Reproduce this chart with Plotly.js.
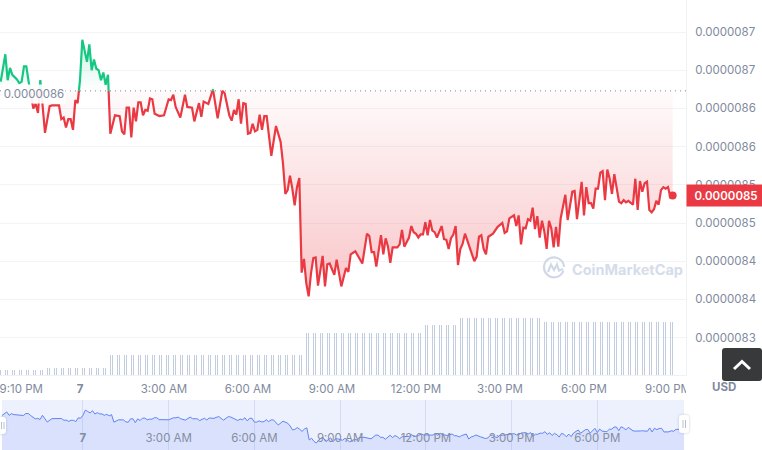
<!DOCTYPE html>
<html><head><meta charset="utf-8">
<script src="https://cdn.plot.ly/plotly-3.0.1.min.js"></script>
<style>html,body{margin:0;padding:0;background:#fff;overflow:hidden}#wrap{position:relative;width:762px;height:450px}#chart{width:762px;height:450px}
.ov{position:absolute}</style></head><body>
<div id="wrap"><div id="chart"></div>
<div class="ov" style="left:686px;top:376px;width:8px;height:20px;background:#fff"></div>
<div class="ov" style="left:722px;top:348px;width:40px;height:33px;background:#38393b;border-radius:3px">
<svg width="40" height="33"><path d="M12 21 L20 13.5 L28 21" fill="none" stroke="#fff" stroke-width="3"/></svg></div>
<div class="ov" style="left:-3px;top:417px;width:9px;height:17px;background:#fff;border-radius:3px;box-shadow:0 0 3px rgba(120,130,160,.4)"><svg width="9" height="17"><path d="M4.5 5V12M7 5V12" stroke="#b8c0d0" stroke-width="1"/></svg></div>
<div class="ov" style="left:679px;top:415px;width:10px;height:18px;background:#fff;border-radius:3px;box-shadow:0 0 3px rgba(120,130,160,.4)"><svg width="10" height="18"><path d="M4 5V13M6.5 5V13" stroke="#b8c0d0" stroke-width="1"/></svg></div>
<svg class="ov" style="left:542px;top:256px" width="24" height="24" viewBox="0 0 24 24"><path d="M21.5 14.5A10 10 0 1 1 22 11" fill="none" stroke="#d0d9e8" stroke-width="2.2"/><path d="M6 16 L9 8.5 L12 14 L15 8.5 L17 14.5 L21 13" fill="none" stroke="#d0d9e8" stroke-width="2.2"/></svg>
</div>
<script>
// minutes from midnight of day 7
const minutes=[-170,-160,-155,-150,-145,-135,-130,-125,-120,-115,-110,-100,-95,-90,-85,-75,-65,-60,-45,-40,-35,-30,-25,-20,-15,-10,-5,0,5,10,15,20,25,30,35,40,45,50,55,60,65,75,85,90,95,100,105,110,115,120,125,130,135,140,145,150,155,160,170,180,190,195,200,205,215,225,230,240,245,255,260,265,275,285,295,305,310,320,325,330,335,340,345,350,355,360,365,370,375,380,385,390,395,400,410,420,430,435,440,445,450,455,460,465,470,475,480,485,490,495,500,505,510,520,525,530,535,545,550,560,570,575,580,590,600,605,615,620,625,630,635,645,650,655,660,665,670,680,685,690,695,705,710,715,720,725,730,735,740,745,750,755,760,765,775,780,785,790,795,800,805,810,815,820,825,835,845,850,855,860,865,870,875,885,895,905,910,915,920,930,935,940,945,950,955,960,965,970,975,980,985,990,995,1000,1005,1010,1015,1020,1025,1030,1040,1045,1055,1060,1065,1075,1080,1085,1090,1095,1100,1105,1110,1115,1120,1125,1130,1135,1140,1145,1155,1160,1165,1170,1175,1185,1190,1195,1200,1205,1210,1215,1220,1225,1230,1235,1240,1245,1250,1255,1260,1265,1270];
// price in units of 1e-9 USD
const priceNano=[863.5,867.1,863.7,865.3,864.4,863.8,863.3,863.5,865.5,865.5,863.5,860.0,860.6,859.4,863.7,856.8,860.3,860.4,860.4,858.6,858.8,857.5,858.6,858.6,857.2,861.1,860.7,863.7,869.0,867.6,866.1,868.4,865.0,866.4,865.2,865.0,863.7,864.7,863.1,864.4,856.7,859.1,859.0,857.0,856.6,860.1,860.1,856.2,860.1,858.3,860.8,860.8,859.1,859.8,859.7,861.3,861.2,859.3,859.0,859.1,861.2,861.1,861.8,860.2,858.8,861.8,860.2,860.1,858.3,860.7,858.9,860.9,860.6,862.5,858.7,862.3,862.0,859.1,858.4,859.8,859.2,861.2,858.0,860.7,860.6,856.7,856.8,858.0,857.0,857.2,859.2,857.2,859.0,859.0,853.8,857.7,855.6,852.8,848.8,849.3,851.2,849.5,847.3,849.7,850.9,838.5,840.3,837.1,835.4,838.4,840.4,840.5,836.8,840.7,836.7,839.6,839.7,838.2,840.2,836.7,839.1,838.6,840.9,841.3,840.2,839.7,843.6,843.3,841.2,841.2,839.3,843.4,840.9,843.0,841.9,839.8,841.8,841.8,842.2,844.1,841.9,843.1,844.6,843.8,843.6,843.1,843.5,843.5,845.1,843.4,845.4,844.0,843.8,843.1,844.6,842.9,842.8,841.6,843.0,843.5,844.6,839.5,841.6,842.3,843.6,841.7,840.0,840.6,843.2,843.4,841.6,840.9,843.2,843.6,844.5,845.0,843.7,843.9,845.6,846.0,844.6,846.0,842.2,844.4,844.3,845.5,845.3,847.0,844.2,845.9,843.1,845.3,843.9,841.6,845.3,844.3,841.8,844.5,841.9,845.6,848.7,845.4,849.1,849.2,845.5,850.4,846.0,849.7,847.6,847.6,846.9,849.5,849.5,851.6,851.8,848.0,852.0,850.8,848.8,851.4,847.8,847.6,848.0,847.7,847.9,847.4,850.8,846.7,850.5,849.1,850.2,850.4,846.7,846.4,846.8,847.9,847.4,849.3,849.7,849.5,849.7,848.4,848.6];
const openPrice=862.3;
// rolling volume read as steps (relative units) and the minute each step ends
const volumeLevels=[55,70,200,417,500,567,527];
const volumeStepEnds=[-78,61,479,736,810,994,1275];
const yTickVals=[870,865,860,855,850,845,840,835,830];
const yTickText=['0.0000087','0.0000087','0.0000086','0.0000086','0.0000085','0.0000085','0.0000084','0.0000084','0.0000083'];
const xTickVals=[-126,0,180,360,540,720,900,1080,1260];
const xTickText=['9:10 PM','<b>7</b>','3:00 AM','6:00 AM','9:00 AM','12:00 PM','3:00 PM','6:00 PM','9:00 PM'];
const navTickVals=[0,180,360,540,720,900,1080,1260];
const navTickText=['<b>7</b>','3:00 AM','6:00 AM','9:00 AM','12:00 PM','3:00 PM','6:00 PM',''];
const RED='#ea3943',GREEN='#16c784',GRAY='#808a9d',FONT='Inter, sans-serif',FS=11.5;

// split series at the open-price level so each side has its own colour
const T=[],V=[];
minutes.forEach((t,i)=>{
  if(i>0){const a=priceNano[i-1],b=priceNano[i];
    if((a-openPrice)*(b-openPrice)<0){const p=minutes[i-1]+(t-minutes[i-1])*(openPrice-a)/(b-a);T.push(p);V.push(openPrice);}}
  T.push(t);V.push(priceNano[i]);
});
const base=T.map(()=>openPrice);
const volT=[],volV=[];
for(let t=-170;t<=1270;t+=5){let k=volumeStepEnds.findIndex(e=>t<e);volT.push(t);volV.push(volumeLevels[k]);}
const last=minutes.length-1;

const traces=[
 {type:'bar',x:volT,y:volV,xaxis:'x',yaxis:'y2',width:2.1,marker:{color:'#c3cde0',line:{width:0}},hoverinfo:'skip'},
 {x:T,y:base,mode:'lines',line:{width:0},hoverinfo:'skip'},
 {x:T,y:V.map(v=>Math.min(v,openPrice)),mode:'lines',line:{width:0},fill:'tonexty',
  fillgradient:{type:'vertical',start:openPrice,stop:835,colorscale:[[0,'rgba(234,57,67,0.02)'],[1,'rgba(234,57,67,0.3)']]},hoverinfo:'skip'},
 {x:T,y:base,mode:'lines',line:{width:0},hoverinfo:'skip'},
 {x:T,y:V.map(v=>Math.max(v,openPrice)),mode:'lines',line:{width:0},fill:'tonexty',
  fillgradient:{type:'vertical',start:869,stop:openPrice,colorscale:[[0,'rgba(22,199,132,0.22)'],[1,'rgba(22,199,132,0.0)']]},hoverinfo:'skip'},
 {x:T,y:V.map(v=>v<=openPrice?v:null),mode:'lines',line:{color:RED,width:2.2},connectgaps:false},
 {x:T,y:V.map(v=>v>=openPrice?v:null),mode:'lines',line:{color:GREEN,width:2.2},connectgaps:false},
 {x:[minutes[last]],y:[priceNano[last]],mode:'markers',marker:{color:RED,size:8}},
 {x:minutes,y:priceNano,xaxis:'x3',yaxis:'y3',mode:'lines',line:{color:'#5f85f5',width:1},fill:'tozeroy',fillcolor:'rgba(56,97,251,0.1)',hoverinfo:'skip'}
];
const W=686;
const layout={
 width:762,height:450,margin:{l:0,r:76,t:0,b:0,pad:0},showlegend:false,paper_bgcolor:'#fff',plot_bgcolor:'rgba(0,0,0,0)',
 font:{family:FONT,size:FS,color:GRAY},bargap:0,
 xaxis:{domain:[0,1],range:[-171.4,1298.6],anchor:'y',tickmode:'array',tickvals:xTickVals,ticktext:xTickText,showgrid:false,zeroline:false,ticks:'',showline:true,linecolor:'#eff2f5',tickfont:{family:FONT,size:FS,color:GRAY},ticklabelstandoff:3,ticklabeloverflow:'allow'},
 yaxis:{domain:[75/450,1],range:[825.1,874.2],side:'right',anchor:'x',tickmode:'array',tickvals:yTickVals,ticktext:yTickText,gridcolor:'#f2f4f8',zeroline:false,showline:true,linecolor:'#eff2f5',ticks:'',ticklabelstandoff:6,tickfont:{family:FONT,size:FS,color:GRAY}},
 yaxis2:{range:[0,3750],anchor:'x',overlaying:'y',visible:false},
 xaxis3:{domain:[2/W,684/W],range:[-170,1262],anchor:'y3',tickmode:'array',tickvals:navTickVals,ticktext:navTickText,ticklabelposition:'inside',gridcolor:'#d6ddf3',showgrid:true,zeroline:false,ticks:'',tickfont:{family:FONT,size:FS,color:'#858da0'},ticklabelstandoff:3},
 yaxis3:{domain:[0,50/450],range:[828.3,879.3],anchor:'x3',visible:false},
 shapes:[
  {type:'rect',xref:'x3 domain',yref:'y3 domain',x0:0,x1:1,y0:0,y1:1,fillcolor:'#edf0fd',line:{width:0},layer:'below'},
  {type:'line',xref:'paper',yref:'y',x0:0,x1:1,y0:openPrice,y1:openPrice,line:{color:'#7f8899',width:1,dash:'1px,4px'}}
 ],
 annotations:[
  {xref:'paper',yref:'y',x:33.5/W,xanchor:'center',yanchor:'middle',y:861.9,text:'0.0000086',showarrow:false,bgcolor:'rgba(255,255,255,0.92)',width:60,height:16,font:{family:FONT,size:FS,color:GRAY}},
  {xref:'paper',yref:'y',x:1,xanchor:'left',yanchor:'middle',y:priceNano[last],text:'0.0000085',showarrow:false,bgcolor:RED,width:76,height:19,font:{family:FONT,size:FS,color:'#fff',weight:600}},
  {xref:'paper',yref:'paper',x:724/W,y:(450-387)/450,xanchor:'center',yanchor:'middle',text:'<b>USD</b>',showarrow:false,font:{family:FONT,size:FS,color:GRAY}},
  {xref:'paper',yref:'paper',x:627.5/W,y:(450-269)/450,xanchor:'center',yanchor:'middle',text:'<b>CoinMarketCap</b>',showarrow:false,font:{family:FONT,size:14.5,color:'#d5dDea'}}
 ]
};
Plotly.newPlot('chart',traces,layout,{displayModeBar:false,staticPlot:true});
</script></body></html>
